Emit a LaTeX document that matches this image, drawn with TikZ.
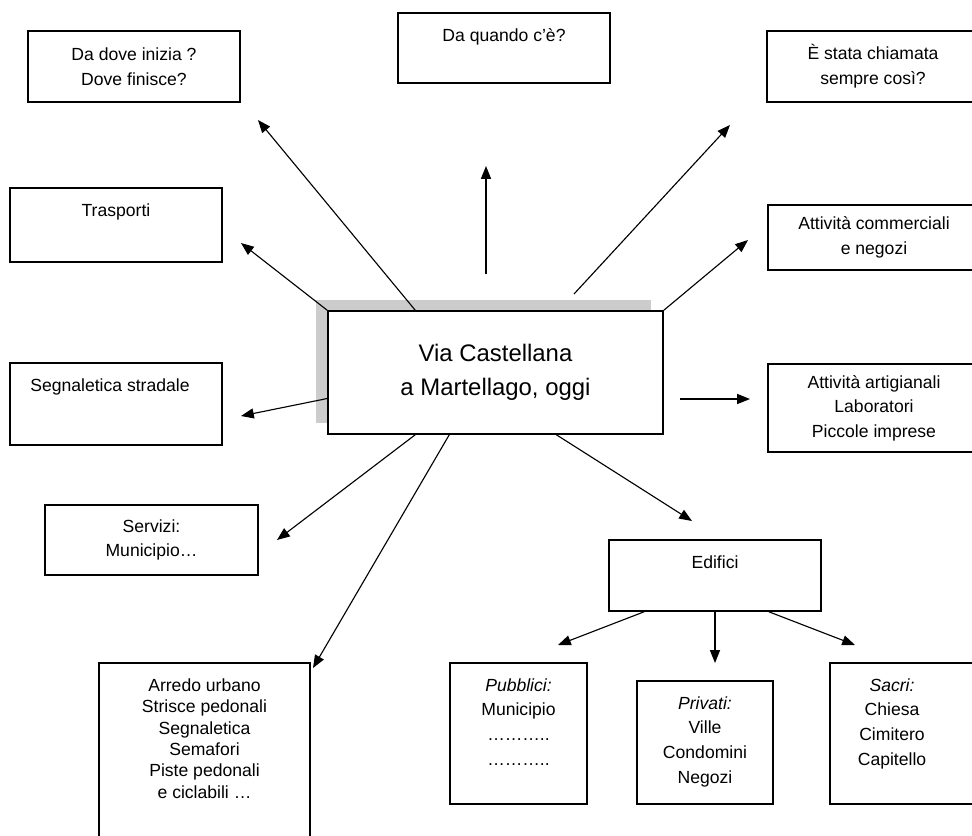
\documentclass[tikz,border=0pt]{standalone}
\usepackage{fontspec}
\setmainfont{Liberation Sans}
\usepackage{tikz}
\usetikzlibrary{arrows.meta,shadows,calc}

\begin{document}
\begin{tikzpicture}[x=0.025cm,y=-0.025cm,>={Triangle[length=3.2mm,width=2.5mm]},
	box/.style={draw,line width=1pt,fill=white,align=center,inner sep=0pt,
		font=\fontsize{12.5}{17.5}\selectfont},
	toptext/.style={anchor=north,align=center,inner sep=0pt,yshift=-0.4cm,
		font=\fontsize{12.5}{17.5}\selectfont},
	freccia/.style={->,line width=0.8pt},
]
\useasboundingbox (0,0) rectangle (972,835);

% nodo centrale
\node[box,minimum width=8.375cm,minimum height=3.075cm,
	font=\fontsize{17}{24}\selectfont,
	drop shadow={shadow xshift=-0.3cm,shadow yshift=0.27cm,fill=gray!40,opacity=1}]
	(centro) at (495.5,372.5) {Via Castellana\\a Martellago, oggi};

% domande in alto
\node[box,minimum width=5.3cm,minimum height=1.775cm] (dove) at (134,66.5) {Da dove inizia ?\\Dove finisce?};
\node[box,minimum width=5.3cm,minimum height=1.75cm,
	label={[toptext,name=quandoT]north:Da quando c'è?}] (quando) at (504,48) {};
\node[box,minimum width=5.3cm,minimum height=1.775cm] (stata) at (873,66.5) {È stata chiamata\\sempre così?};

% a sinistra
\node[box,minimum width=5.3cm,minimum height=1.85cm,
	label={[toptext,name=trasportiT]north:Trasporti}] (trasporti) at (116,225) {};
\node[box,minimum width=5.3cm,minimum height=2.05cm,
	label={[toptext,xshift=-0.15cm,name=segnaleticaT]north:Segnaletica stradale}] (segnaletica) at (116,404) {};
\node[box,minimum width=5.325cm,minimum height=1.75cm] (servizi) at (151.5,540) {Servizi:\\Municipio…};
\node[box,minimum width=5.275cm,minimum height=4.425cm,
	label={[toptext,font=\fontsize{12.5}{15.2}\selectfont,name=arredoT]north:{Arredo urbano\\Strisce pedonali\\Segnaletica\\Semafori\\Piste pedonali\\e ciclabili …}}]
	(arredo) at (204.5,751.5) {};

% a destra
\node[box,minimum width=5.3cm,minimum height=1.625cm] (commerciali) at (874,237.5) {Attività commerciali\\e negozi};
\node[box,minimum width=5.3cm,minimum height=2.2cm] (artigianali) at (874,408) {Attività artigianali\\Laboratori\\Piccole imprese};

% edifici
\node[box,minimum width=5.3cm,minimum height=1.775cm,
	label={[toptext,name=edificiT]north:Edifici}] (edifici) at (715,575.5) {};
\node[box,minimum width=3.425cm,minimum height=3.525cm,
	label={[toptext,name=pubbliciT]north:{\textit{Pubblici:}\\Municipio\\………..\\………..}}] (pubblici) at (518.5,733.5) {};
\node[box,minimum width=3.4cm,minimum height=3.075cm,
	label={[toptext,name=privatiT]north:{\textit{Privati:}\\Ville\\Condomini\\Negozi}}] (privati) at (705,742.5) {};
\node[box,minimum width=3.7cm,minimum height=3.525cm,
	label={[toptext,xshift=-0.3cm,name=sacriT]north:{\textit{Sacri:}\\Chiesa\\Cimitero\\Capitello}}] (sacri) at (904,733.5) {};

% punte delle frecce
\coordinate (pDove) at (258,120);
\coordinate (cQuando) at (486,274);
\coordinate (pQuando) at (486,166);
\coordinate (cStata) at (574,294);
\coordinate (pStata) at (730,125);
\coordinate (pTrasporti) at (241,243);
\coordinate (pCommerciali) at (748,240);
\coordinate (pSegnaletica) at (241,416);
\coordinate (cArtigianali) at (680,399);
\coordinate (pArtigianali) at (750,399);
\coordinate (pServizi) at (277,540);
\coordinate (pArredo) at (313,668);
\coordinate (pEdifici) at (692,521);
\coordinate (pPubblici) at (558,645);
\coordinate (pPrivati) at (715,663);
\coordinate (pSacri) at (855,645);

\draw[freccia] ([xshift=2.2cm]centro.north west) -- (pDove);
\draw[freccia] (cQuando) -- (pQuando);
\draw[freccia] (cStata) -- (pStata);
\draw[freccia] (centro.north west) -- (pTrasporti);
\draw[freccia] (centro.north east) -- (pCommerciali);
\draw[freccia] ([yshift=-0.65cm]centro.west) -- (pSegnaletica);
\draw[freccia] (cArtigianali) -- (pArtigianali);
\draw[freccia] ([xshift=2.2cm]centro.south west) -- (pServizi);
\draw[freccia] ([xshift=3.05cm]centro.south west) -- (pArredo);
\draw[freccia] ([xshift=5.725cm]centro.south west) -- (pEdifici);
\draw[freccia] ([xshift=0.9cm]edifici.south west) -- (pPubblici);
\draw[freccia] (edifici.south) -- (pPrivati);
\draw[freccia] ([xshift=-1.325cm]edifici.south east) -- (pSacri);
\end{tikzpicture}
\end{document}
